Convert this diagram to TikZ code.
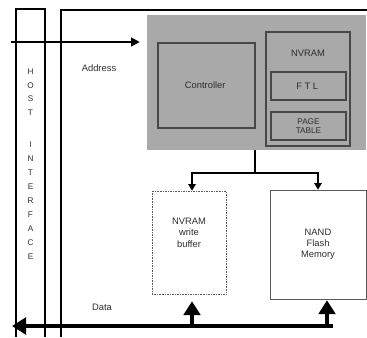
\documentclass[tikz,border=0pt]{standalone}
\usepackage{fontspec}
\setmainfont{Liberation Sans}
\usepackage{xcolor}
\usepackage{tikz}
\usetikzlibrary{
  arrows.meta,
  positioning
}
\definecolor{ChipGray}{HTML}{A9A9A9}
\definecolor{EdgeGray}{HTML}{474747}
\definecolor{InkGray}{HTML}{2E2E2E}
\definecolor{MemEdge}{HTML}{5A5A5A}
\tikzset{
  hostline/.style={
    line width=1.3pt,
    draw=black
  },
  frame/.style={
    line width=1.8pt,
    draw=black
  },
  chip/.style={
    fill=ChipGray,
    draw=none,
    minimum width=6.57cm,
    minimum height=4.05cm
  },
  unit/.style={
    draw=EdgeGray,
    line width=1pt,
    align=center,
    text=InkGray
  },
  memory/.style={
    draw=MemEdge,
    thin,
    fill=white,
    align=center,
    text=InkGray
  },
  plain/.style={
    inner sep=1pt,
    text=InkGray
  },
  hostletter/.style={
    inner sep=0pt,
    font=\scriptsize,
    text=InkGray
  },
  address/.style={
    -{Triangle[length=2.6mm,width=2.6mm]},
    line width=1.6pt
  },
  branch/.style={
    -{Triangle[length=2mm,width=2.2mm]},
    line width=1.4pt
  },
  databus/.style={
    -{Triangle[length=4.2mm,width=5mm]},
    line width=4.2pt
  },
  busup/.style={
    -{Triangle[length=4.2mm,width=5mm]},
    line width=3.4pt
  }
}

\begin{document}
\begin{tikzpicture}[x=0.03cm,y=-0.03cm,font=\footnotesize]

  \useasboundingbox (0,0) rectangle (367,337);

  % host interface column and device frame
  \draw[hostline]
  (16,337) |- (45,9) -- (45,337);

  \draw[frame]
  (61,337) |- (367,10);

  \foreach \ch [count=\i] in {H,O,S,T} {
    \node[hostletter] (hostA\i) at (30.5,58.5+13.5*\i) {\ch};
  }

  \foreach \ch [count=\i] in {I,N,T,E,R,F,A,C,E} {
    \node[hostletter] (hostB\i) at (30.5,131+14*\i) {\ch};
  }

  % controller block
  \node[chip] at (256.5,82.5) (ctrlblock) {};

  \node[
    unit,
    minimum width=2.91cm,
    minimum height=2.55cm
  ] at (206.5,85.5) (controller) {
    Controller
  };

  \node[
    unit,
    minimum width=2.52cm,
    minimum height=3.42cm
  ] at (308,89) (nvram) {};

  \node[plain] at (308,53) (nvramlabel) {
    NVRAM
  };

  \node[
    unit,
    minimum width=2.25cm,
    minimum height=0.84cm
  ] at (308.5,86) (ftl) {
    F T L
  };

  \node[
    unit,
    minimum width=2.25cm,
    minimum height=0.84cm,
    font=\scriptsize
  ] at (308.5,126) (pagetable) {
    PAGE\\TABLE
  };

  % memories
  \node[
    memory,
    densely dotted,
    minimum width=2.22cm,
    minimum height=3.09cm
  ] at (189,242.5) (buffer) {
    NVRAM\\write\\buffer\\[0.25cm]
  };

  \node[
    memory,
    minimum width=2.88cm,
    minimum height=3.27cm
  ] at (318,244.5) (nand) {
    NAND\\Flash\\Memory
  };

  % address path
  \coordinate (addrin) at (11,42);

  \draw[address,shorten >=0.21cm]
  (addrin) --
  (addrin -| ctrlblock.west);

  \node[plain] at (99,68) (addrlabel) {
    Address
  };

  % controller to memories
  \coordinate (split) at (255,173);

  \draw[line width=1.4pt]
  (ctrlblock.south -| split) --
  (split);

  \draw[branch]
  (split) -| ([xshift=0.09cm]buffer.north);

  \draw[branch]
  (split) -| (nand.north);

  % data bus
  \coordinate (busend) at (333,326);
  \coordinate (busstart) at (12,326);

  \draw[databus]
  (busend) --
  (busstart);

  \draw[busup]
  ([xshift=0.09cm]buffer.south |- busend) --
  ([xshift=0.09cm,yshift=-0.21cm]buffer.south);

  \draw[busup]
  ([xshift=0.27cm]nand.south |- busend) --
  ([xshift=0.27cm,yshift=-0.03cm]nand.south);

  \node[plain] at (102,307) (datalabel) {
    Data
  };

\end{tikzpicture}
\end{document}
